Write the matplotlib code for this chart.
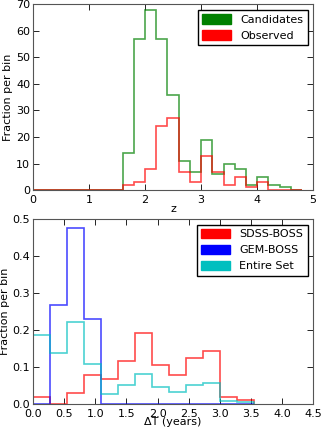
import numpy as np
import matplotlib
matplotlib.use("Agg")
import matplotlib.pyplot as plt
from matplotlib.patches import Patch

# ================= DATA =================
z_edges = np.arange(0, 4.81, 0.2)
candidates = [0, 0, 0, 0, 0, 0, 0, 0, 14, 57, 68, 57, 36, 11, 7, 19, 6, 10, 8, 2, 5, 2, 1, 0]
observed = [0, 0, 0, 0, 0, 0, 0, 0, 2, 3, 8, 24, 27, 7, 3, 13, 7, 2, 5, 1, 3, 0, 0, 0]

dt_edges = np.linspace(0, 3.55, 14)
sdss_boss = [0.019, 0.0, 0.029, 0.077, 0.068, 0.116, 0.191, 0.105, 0.077, 0.124, 0.143, 0.019, 0.011]
gem_boss = [0.0, 0.267, 0.477, 0.229, 0.0, 0.0, 0.0, 0.0, 0.0, 0.0, 0.0, 0.0, 0.0]
entire_set = [0.187, 0.138, 0.222, 0.107, 0.027, 0.050, 0.081, 0.046, 0.031, 0.050, 0.057, 0.009, 0.005]

plt.rcParams["font.family"] = "DejaVu Sans"
plt.rcParams["font.size"] = 8

fig = plt.figure(figsize=(3.22, 4.32), dpi=100)
ax1 = fig.add_axes([0.1025, 0.560, 0.870, 0.430])
ax2 = fig.add_axes([0.1025, 0.065, 0.870, 0.428])


def step_hist(ax, edges, vals, color):
    ax.hist(edges[:-1], bins=edges, weights=vals, histtype="step",
            color=color, lw=1.2, alpha=0.7)


def style(ax):
    ax.tick_params(direction="in", top=True, right=True, length=4, width=0.6,
                   labelsize=8, pad=2)
    ax.tick_params(axis="x", pad=3.5)
    for s in ax.spines.values():
        s.set_linewidth(0.8)
        s.set_color("#555555")


def add_legend(ax, items):
    ax.legend(handles=[Patch(color=c, label=l) for l, c in items],
              loc="upper right", fontsize=8, fancybox=False, edgecolor="black",
              framealpha=1, handlelength=2.6, handleheight=0.9,
              borderaxespad=0.5)


# ================= TOP: REDSHIFT =================
step_hist(ax1, z_edges, candidates, "green")
step_hist(ax1, z_edges, observed, "red")
ax1.set_xlim(0, 5)
ax1.set_ylim(0, 70)
ax1.set_xticks([0, 1, 2, 3, 4, 5])
ax1.set_yticks(range(0, 71, 10))
ax1.set_xlabel("z", fontsize=8, labelpad=-1)
ax1.set_ylabel("Fraction per bin", fontsize=8, labelpad=2)
style(ax1)
add_legend(ax1, [("Candidates", "green"), ("Observed", "red")])

# ================= BOTTOM: DELTA T =================
step_hist(ax2, dt_edges, sdss_boss, "red")
step_hist(ax2, dt_edges, gem_boss, "blue")
step_hist(ax2, dt_edges, entire_set, "c")
ax2.set_xlim(0, 4.5)
ax2.set_ylim(0, 0.5)
ax2.set_xticks(np.arange(0, 4.51, 0.5))
ax2.set_yticks(np.arange(0, 0.51, 0.1))
ax2.set_xlabel("\u0394T (years)", fontsize=8, labelpad=-1)
ax2.set_ylabel("Fraction per bin", fontsize=8, labelpad=2)
style(ax2)
add_legend(ax2, [("SDSS-BOSS", "red"), ("GEM-BOSS", "blue"), ("Entire Set", "c")])

fig.savefig("out.png", dpi=100)
